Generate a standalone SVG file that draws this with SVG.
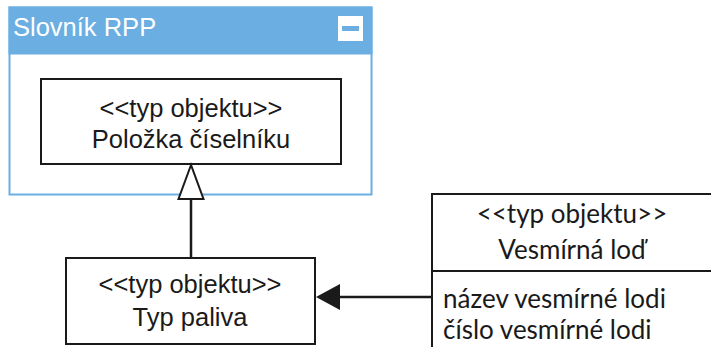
<svg xmlns="http://www.w3.org/2000/svg" width="711" height="347" viewBox="0 0 711 347">
<style>
.box{fill:#fff;stroke:#1a1a1a;stroke-width:2}
.t{font-family:"Liberation Sans",Arial,sans-serif;font-size:25.5px;fill:#1a1a1a;text-anchor:middle}
.c{font-family:Lato,"Open Sans",sans-serif;font-size:26px;fill:#1a1a1a}
.line{stroke:#1a1a1a;stroke-width:2.5;fill:none}
</style>
<rect width="711" height="347" fill="#fff"/>
<g id="pkg">
<rect x="9.5" y="7.5" width="362" height="187" fill="#fff" stroke="#6aaee2" stroke-width="2"/>
<rect x="9.5" y="7.5" width="362" height="46" fill="#6aaee2" stroke="#6aaee2" stroke-width="2"/>
<text x="13" y="36" style="font-family:'Liberation Sans',Arial,sans-serif;font-size:25.5px;fill:#fff">Slovník RPP</text>
<rect x="338" y="16" width="25" height="25" fill="#fff"/>
<rect x="342" y="26" width="17" height="5" fill="#6aaee2"/>
</g>
<g id="polozka">
<rect class="box" x="41" y="79" width="300" height="85"/>
<text class="t" x="191" y="117">&lt;&lt;typ objektu&gt;&gt;</text>
<text class="t" x="191" y="148">Položka číselníku</text>
</g>
<g id="typpaliva">
<rect class="box" x="66" y="258" width="249" height="86"/>
<text class="t" x="190" y="293">&lt;&lt;typ objektu&gt;&gt;</text>
<text class="t" x="190" y="326">Typ paliva</text>
</g>
<g id="lod">
<rect class="box" x="432" y="194" width="282" height="160"/>
<line x1="432" y1="271" x2="711" y2="271" stroke="#1a1a1a" stroke-width="2"/>
<text class="c" x="572" y="223" text-anchor="middle">&lt;&lt;typ objektu&gt;&gt;</text>
<text class="c" x="572" y="259" text-anchor="middle">Vesmírná loď</text>
<text class="c" x="443" y="308">název vesmírné lodi</text>
<text class="c" x="443" y="339">číslo vesmírné lodi</text>
</g>
<g id="connectors">
<line class="line" x1="191" y1="199" x2="191" y2="258"/>
<polygon points="191,165 178.5,199 203.5,199" fill="#fff" stroke="#1a1a1a" stroke-width="2"/>
<line class="line" x1="340" y1="297" x2="432" y2="297"/>
<polygon points="316,297 340,284 340,310" fill="#1a1a1a"/>
</g>
</svg>
